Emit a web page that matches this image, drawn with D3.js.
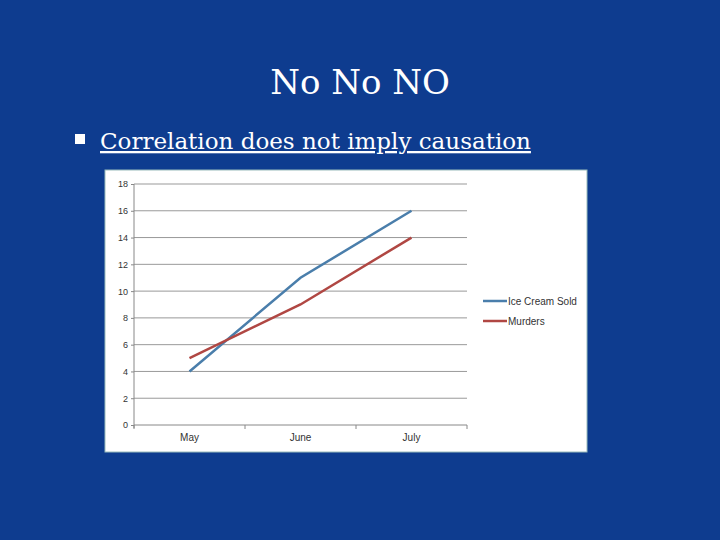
<!DOCTYPE html>
<html><head><meta charset="utf-8">
<script src="https://cdn.jsdelivr.net/npm/d3@7"></script>
<style>body{margin:0;background:#0e3c8f}</style></head>
<body><svg id="c" width="720" height="540"></svg>
<script>
const months = ["May","June","July"];
const iceCream = [4,11,16];
const murders = [5,9,14];
const yTicks = [0,2,4,6,8,10,12,14,16,18];
const seriesNames = ["Ice Cream Sold","Murders"];
const colors = ["#4a7eab","#b04743"];

const svg = d3.select("#c");
svg.append("rect").attr("width",720).attr("height",540).attr("fill","#0e3c8f");
svg.append("text").attr("x",360).attr("y",94).attr("text-anchor","middle")
  .attr("fill","#fff").attr("font-family","DejaVu Serif").attr("font-size",34).text("No No NO");
svg.append("rect").attr("x",75).attr("y",134).attr("width",10).attr("height",10).attr("fill","#fff");
svg.append("text").attr("x",100).attr("y",149).attr("fill","#fff")
  .attr("font-family","DejaVu Serif").attr("font-size",23).attr("text-decoration","underline")
  .text("Correlation does not imply causation");

svg.append("rect").attr("x",105).attr("y",170).attr("width",482).attr("height",282).attr("fill","#fff").attr("stroke","#9bb","stroke-width",1);

const x = d3.scaleBand().domain(months).range([134,467]);
const y = d3.scaleLinear().domain([0,18]).range([425,184]);

const g = svg.append("g");
g.selectAll("line.grid").data(yTicks).join("line").attr("class","grid")
  .attr("x1",134).attr("x2",467).attr("y1",d=>y(d)).attr("y2",d=>y(d))
  .attr("stroke",d=>d===0?"#888":"#999").attr("stroke-width",1);
g.append("line").attr("x1",134).attr("x2",134).attr("y1",184).attr("y2",428).attr("stroke","#888");
const yAx = svg.append("g").attr("transform","translate(134,0)")
  .call(d3.axisLeft(y).tickValues(yTicks).tickSize(3));
yAx.select(".domain").remove();
yAx.selectAll("text").attr("font-family","Liberation Sans").attr("font-size",9).attr("fill","#333");
yAx.selectAll("line").attr("stroke","#888");
const xAx = svg.append("g").attr("transform","translate(0,425)")
  .call(d3.axisBottom(x).tickSize(0).tickPadding(9));
xAx.select(".domain").remove();
xAx.selectAll("text").attr("font-family","Liberation Sans").attr("font-size",10).attr("fill","#333");
[134,...months.map(m=>x(m)+x.bandwidth())].forEach(v=>
  svg.append("line").attr("x1",v).attr("x2",v).attr("y1",425).attr("y2",429).attr("stroke","#888"));

const line = d3.line().x((d,i)=>x(months[i])+x.bandwidth()/2).y(d=>y(d));
[iceCream,murders].forEach((s,i)=>{
  svg.append("path").attr("d",line(s)).attr("fill","none").attr("stroke",colors[i]).attr("stroke-width",2.5);
  const ly = 301 + i*20;
  svg.append("line").attr("x1",483).attr("x2",507).attr("y1",ly).attr("y2",ly).attr("stroke",colors[i]).attr("stroke-width",2.5);
  svg.append("text").attr("x",508).attr("y",ly+4).attr("font-family","Liberation Sans").attr("font-size",10)
    .attr("fill","#333").text(seriesNames[i]);
});
</script></body></html>
